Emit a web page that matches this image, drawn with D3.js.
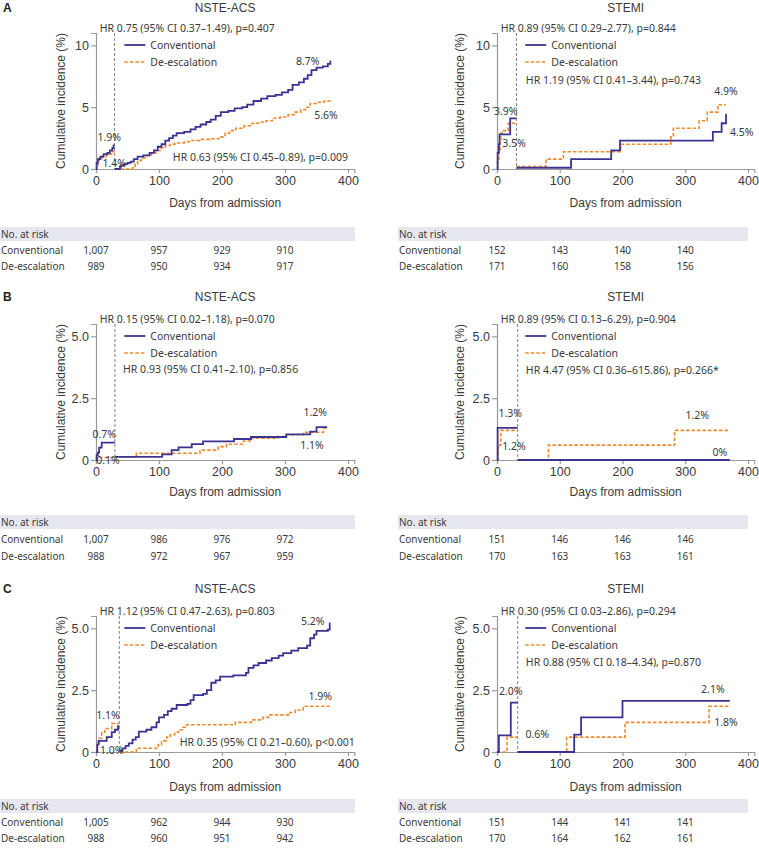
<!DOCTYPE html>
<html><head><meta charset="utf-8">
<script src="https://cdn.jsdelivr.net/npm/d3@7"></script>
<style>body{margin:0;background:#fff}svg{display:block}</style>
</head><body>
<svg id="chart" width="759" height="853"></svg>
<script>
// ---------------- DATA ----------------
const panelTitles = ["NSTE-ACS", "STEMI"];
const seriesNames = ["Conventional", "De-escalation"];
const xTicks = [0, 100, 200, 300, 400];
const riskTicks = [0, 100, 200, 300];
const yTicksA = [0, 5, 10];
const yTickLabelsA = ["0", "5", "10"];
const yTicksBC = [0, 2.5, 5];
const yTickLabelsBC = ["0", "2.5", "5.0"];
const landmarkDays = [[29.5, 31], [30, 33], [37, 33]];

// Panel A, NSTE-ACS
const A_nste_conv_early = [[0,0],[1,0.5],[3,0.8],[7,1.0],[12,1.2],[18,1.3],[22,1.5],[26,1.7],[28,1.9],[29.5,1.9]];
const A_nste_desc_early = [[0,0],[1,0.3],[3,0.6],[5,0.9],[10,1.0],[16,1.1],[21,1.2],[25,1.4],[29.5,1.4]];
const A_nste_conv_late = [[30,0],[38,0.2],[40,0.3],[45,0.4],[50,0.5],[55,0.6],[60,0.8],[66,1.0],[75,1.1],[85,1.3],[92,1.5],[98,1.8],[104,2.0],[110,2.3],[116,2.5],[122,2.7],[128,2.9],[140,3.0],[150,3.2],[158,3.4],[166,3.6],[175,3.8],[182,4.0],[190,4.3],[198,4.6],[210,4.7],[220,4.9],[232,5.0],[240,5.2],[250,5.5],[262,5.7],[272,5.9],[285,6.0],[295,6.2],[305,6.4],[312,6.8],[322,7.0],[330,7.3],[336,7.6],[342,8.0],[350,8.2],[360,8.3],[368,8.5],[372,8.7],[373,8.7]];
const A_nste_desc_late = [[30,0],[58,0.1],[62,0.4],[66,0.7],[72,0.9],[80,1.1],[88,1.3],[95,1.5],[102,1.7],[110,1.9],[118,2.0],[125,2.1],[140,2.2],[150,2.3],[165,2.4],[180,2.45],[195,2.6],[205,2.9],[212,3.1],[222,3.3],[235,3.5],[248,3.7],[258,3.8],[270,3.9],[280,4.1],[292,4.2],[305,4.4],[315,4.6],[325,4.8],[333,5.0],[340,5.3],[350,5.4],[362,5.5],[372,5.6],[373,5.6]];
// Panel A, STEMI
const A_stemi_conv_early = [[0,0],[1,1.3],[3,2.0],[4,2.8],[21,4.1],[31,4.1]];
const A_stemi_desc_early = [[0,0],[1,0.6],[3,1.4],[5,2.4],[6,2.9],[10,3.1],[18,3.7],[31,3.7]];
const A_stemi_conv_late = [[31,0.1],[118,0.8],[182,1.5],[196,2.3],[344,3.0],[358,3.7],[365,4.4],[366,4.4]];
const A_stemi_desc_late = [[31,0.2],[78,0.8],[106,1.4],[197,2.0],[277,2.6],[281,3.3],[322,3.9],[335,4.6],[352,5.2],[365,5.2]];
// Panel B, NSTE-ACS
const B_nste_conv_early = [[0,0],[1,0.2],[3,0.3],[5,0.5],[9,0.7],[30,0.7]];
const B_nste_desc_early = [[0,0],[1,0.1],[30,0.1]];
const B_nste_conv_late = [[30,0.13],[105,0.23],[120,0.4],[131,0.51],[152,0.64],[170,0.75],[219,0.85],[246,0.93],[302,1.04],[340,1.15],[350,1.33],[367,1.33]];
const B_nste_desc_late = [[30,0.13],[64,0.27],[165,0.4],[194,0.54],[207,0.64],[234,0.77],[247,0.88],[289,0.95],[302,1.02],[329,1.12],[361,1.29],[367,1.29]];
// Panel B, STEMI
const B_stemi_conv_early = [[0,0],[1,1.3],[33,1.3]];
const B_stemi_desc_early = [[0,0],[2,0.6],[6,1.2],[33,1.2]];
const B_stemi_conv_late = [[33,0],[371,0]];
const B_stemi_desc_late = [[33,0],[82,0.6],[283,1.2],[371,1.2]];
// Panel C, NSTE-ACS
const C_nste_conv_early = [[0,0],[2,0.3],[4,0.45],[17,0.6],[25,0.8],[30,0.9],[35,1.05],[37,1.05]];
const C_nste_desc_early = [[0,0],[2,0.3],[5,0.55],[9,0.8],[14,0.95],[25,1.15],[37,1.15]];
const C_nste_conv_late = [[37,0.05],[42,0.15],[47,0.25],[52,0.35],[58,0.5],[63,0.6],[68,0.82],[80,0.9],[88,1.0],[96,1.2],[100,1.4],[108,1.5],[114,1.65],[120,1.75],[128,1.9],[145,1.95],[150,2.1],[155,2.3],[170,2.35],[176,2.5],[183,2.8],[190,2.9],[197,3.05],[218,3.1],[238,3.2],[242,3.4],[250,3.5],[258,3.6],[270,3.7],[279,3.8],[290,3.9],[297,4.0],[310,4.1],[321,4.2],[335,4.3],[340,4.6],[346,4.75],[350,4.9],[368,4.95],[371,5.2],[372,5.2]];
const C_nste_desc_late = [[37,0],[64,0.15],[99,0.3],[104,0.45],[112,0.6],[118,0.7],[125,0.8],[131,0.9],[138,1.0],[144,1.1],[221,1.2],[247,1.3],[265,1.4],[276,1.5],[308,1.6],[316,1.7],[329,1.85],[371,1.85]];
// Panel C, STEMI
const C_stemi_conv_early = [[0,0],[3,0.67],[22,2.0],[33,2.0]];
const C_stemi_desc_early = [[0,0],[16,0.6],[33,0.6]];
const C_stemi_conv_late = [[33,0],[123,0.7],[134,1.4],[200,2.07],[371,2.07]];
const C_stemi_desc_late = [[33,0],[111,0.6],[204,1.2],[338,1.85],[371,1.85]];

// Numbers at risk
const A_nste_risk_conv = [1007, 957, 929, 910];
const A_nste_risk_desc = [989, 950, 934, 917];
const A_stemi_risk_conv = [152, 143, 140, 140];
const A_stemi_risk_desc = [171, 160, 158, 156];
const B_nste_risk_conv = [1007, 986, 976, 972];
const B_nste_risk_desc = [988, 972, 967, 959];
const B_stemi_risk_conv = [151, 146, 146, 146];
const B_stemi_risk_desc = [170, 163, 163, 161];
const C_nste_risk_conv = [1005, 962, 944, 930];
const C_nste_risk_desc = [988, 960, 951, 942];
const C_stemi_risk_conv = [151, 144, 141, 141];
const C_stemi_risk_desc = [170, 164, 162, 161];

// Hazard ratio texts
const hrEarly = [["HR 0.75 (95% CI 0.37–1.49), p=0.407", "HR 0.89 (95% CI 0.29–2.77), p=0.844"],
                 ["HR 0.15 (95% CI 0.02–1.18), p=0.070", "HR 0.89 (95% CI 0.13–6.29), p=0.904"],
                 ["HR 1.12 (95% CI 0.47–2.63), p=0.803", "HR 0.30 (95% CI 0.03–2.86), p=0.294"]];
const hrLate = [["HR 0.63 (95% CI 0.45–0.89), p=0.009", "HR 1.19 (95% CI 0.41–3.44), p=0.743"],
                ["HR 0.93 (95% CI 0.41–2.10), p=0.856", "HR 4.47 (95% CI 0.36–615.86), p=0.266*"],
                ["HR 0.35 (95% CI 0.21–0.60), p<0.001", "HR 0.88 (95% CI 0.18–4.34), p=0.870"]];

// Percentage labels: text, day, value (label centre, in data units)
const pctLabels = [
  [[["8.7%",336,8.74],["5.6%",365,4.37],["1.9%",21,2.6],["1.4%",29,0.5]],
   [["3.9%",14,4.7],["3.5%",27,2.1],["4.9%",365,6.3],["4.5%",390,3.0]]],
  [[["0.7%",13,1.06],["0.1%",19,0.0],["1.2%",348,1.95],["1.1%",343,0.61]],
   [["1.3%",21,1.91],["1.2%",27,0.57],["1.2%",319,1.83],["0%",355,0.33]]],
  [[["5.2%",344,5.28],["1.9%",356,2.26],["1.1%",19,1.49],["1.0%",25,0.1]],
   [["2.0%",22,2.46],["0.6%",64,0.73],["2.1%",344,2.54],["1.8%",365,1.21]]]
];
// late-HR label anchor (day, value)
const hrLatePos = [[[122,0.97],[46,7.2]], [[43,3.66],[46,3.62]], [[133,0.4],[46,3.63]]];

// ---------------- LAYOUT ----------------
const COL_BLUE = "#3b3391", COL_ORANGE = "#f0892a", TXT = "#3a3a3a", AX = "#9a9a9a";
const SANS = "'Liberation Sans', Arial, sans-serif";
const NOTO = "'Noto Sans', 'Open Sans', sans-serif";
const colX = [{x0: 96, x400: 348, tableX: 0, tableW: 355, ylabX: 61}, {x0: 497, x400: 748, tableX: 398, tableW: 350, ylabX: 460}];
const rowsLayout = [
  {letter: "A", top: 33, bottom: 169, titleY: 8, yMax: 11, yT: yTicksA, yL: yTickLabelsA, daysY: 203, bandY: 234, convY: 250, descY: 266},
  {letter: "B", top: 324, bottom: 460, titleY: 297, yMax: 5.5, yT: yTicksBC, yL: yTickLabelsBC, daysY: 492, bandY: 522, convY: 539, descY: 556},
  {letter: "C", top: 616, bottom: 752, titleY: 589, yMax: 5.5, yT: yTicksBC, yL: yTickLabelsBC, daysY: 787, bandY: 806, convY: 822, descY: 838}
];
const curves = [
  [[A_nste_conv_early, A_nste_desc_early, A_nste_conv_late, A_nste_desc_late], [A_stemi_conv_early, A_stemi_desc_early, A_stemi_conv_late, A_stemi_desc_late]],
  [[B_nste_conv_early, B_nste_desc_early, B_nste_conv_late, B_nste_desc_late], [B_stemi_conv_early, B_stemi_desc_early, B_stemi_conv_late, B_stemi_desc_late]],
  [[C_nste_conv_early, C_nste_desc_early, C_nste_conv_late, C_nste_desc_late], [C_stemi_conv_early, C_stemi_desc_early, C_stemi_conv_late, C_stemi_desc_late]]
];
const risks = [
  [[A_nste_risk_conv, A_nste_risk_desc], [A_stemi_risk_conv, A_stemi_risk_desc]],
  [[B_nste_risk_conv, B_nste_risk_desc], [B_stemi_risk_conv, B_stemi_risk_desc]],
  [[C_nste_risk_conv, C_nste_risk_desc], [C_stemi_risk_conv, C_stemi_risk_desc]]
];

const svg = d3.select("#chart");
const fmt = d3.format(",");

rowsLayout.forEach((row, ri) => {
  svg.append("text").attr("x", 3).attr("y", row.titleY).attr("dominant-baseline", "central")
    .attr("font-family", SANS).attr("font-weight", "bold").attr("font-size", 12).attr("fill", "#222").text(row.letter);
  colX.forEach((col, ci) => {
    const x = d3.scaleLinear().domain([0, 400]).range([col.x0, col.x400]);
    const y = d3.scaleLinear().domain([0, row.yMax]).range([row.bottom, row.top]);
    const g = svg.append("g");
    const xEnd = x(410);
    // title
    g.append("text").attr("x", (col.x0 + xEnd) / 2).attr("y", row.titleY).attr("text-anchor", "middle")
      .attr("dominant-baseline", "central").attr("font-family", SANS).attr("font-size", 12).attr("fill", TXT).text(panelTitles[ci]);
    // axes
    const xAxis = d3.axisBottom(d3.scaleLinear().domain([0, 410]).range([col.x0, xEnd])).tickValues(xTicks).tickSizeOuter(0).tickSize(4).tickPadding(3);
    const xg = g.append("g").attr("transform", `translate(0,${row.bottom})`).call(xAxis);
    const yAxis = d3.axisLeft(y).tickValues(row.yT).tickFormat((d, i) => row.yL[i]).tickSizeOuter(0).tickSize(5).tickPadding(2);
    const yg = g.append("g").attr("transform", `translate(${col.x0},0)`).call(yAxis);
    [xg, yg].forEach(a => {
      a.select(".domain").attr("stroke", AX).attr("stroke-width", 1.2);
      a.selectAll(".tick line").attr("stroke", AX).attr("stroke-width", 1.2);
      a.selectAll(".tick text").attr("fill", TXT).attr("font-family", SANS).attr("font-size", 12.5);
    });
    // axis labels
    g.append("text").attr("transform", `translate(${col.ylabX},${(row.top + row.bottom) / 2}) rotate(-90)`)
      .attr("text-anchor", "middle").attr("dominant-baseline", "central").attr("font-family", SANS).attr("font-size", 12).attr("fill", TXT)
      .text("Cumulative incidence (%)");
    g.append("text").attr("x", (col.x0 + xEnd) / 2).attr("y", row.daysY).attr("text-anchor", "middle").attr("dominant-baseline", "central")
      .attr("font-family", SANS).attr("font-size", 12).attr("fill", TXT).text("Days from admission");
    // landmark line
    const lm = landmarkDays[ri][ci];
    g.append("line").attr("x1", x(lm)).attr("x2", x(lm)).attr("y1", row.top).attr("y2", row.bottom)
      .attr("stroke", "#808080").attr("stroke-width", 1).attr("stroke-dasharray", "3,2");
    // curves
    const line = d3.line().x(d => x(d[0])).y(d => y(d[1])).curve(d3.curveStepAfter);
    const c = curves[ri][ci];
    [1, 3].forEach(k => g.append("path").attr("d", line(c[k])).attr("fill", "none").attr("stroke", COL_ORANGE)
      .attr("stroke-width", 1.6).attr("stroke-dasharray", "3.5,2"));
    [0, 2].forEach(k => g.append("path").attr("d", line(c[k])).attr("fill", "none").attr("stroke", COL_BLUE)
      .attr("stroke-width", 1.8));
    // legend
    const lx = x(45), ly1 = row.top + 12, ly2 = row.top + 29;
    g.append("line").attr("x1", lx).attr("x2", lx + 21).attr("y1", ly1).attr("y2", ly1).attr("stroke", COL_BLUE).attr("stroke-width", 1.8);
    g.append("line").attr("x1", lx).attr("x2", lx + 21).attr("y1", ly2).attr("y2", ly2).attr("stroke", COL_ORANGE).attr("stroke-width", 1.6).attr("stroke-dasharray", "3.5,2");
    [ly1, ly2].forEach((ly, i) => g.append("text").attr("x", lx + 26).attr("y", ly).attr("dominant-baseline", "central")
      .attr("font-family", NOTO).attr("font-size", 10.5).attr("fill", TXT).text(seriesNames[i]));
    // HR texts
    g.append("text").attr("x", x(6)).attr("y", row.top - 5).attr("font-family", NOTO).attr("font-size", 10.5)
      .attr("dominant-baseline", "central").attr("fill", TXT).text(hrEarly[ri][ci]);
    const hp = hrLatePos[ri][ci];
    g.append("text").attr("x", x(hp[0])).attr("y", y(hp[1])).attr("font-family", NOTO).attr("font-size", 10.5)
      .attr("dominant-baseline", "central").attr("fill", TXT).text(hrLate[ri][ci]);
    // pct labels
    pctLabels[ri][ci].forEach(p => g.append("text").attr("x", x(p[1])).attr("y", y(p[2])).attr("text-anchor", "middle")
      .attr("dominant-baseline", "central").attr("font-family", NOTO).attr("font-size", 10.5).attr("fill", TXT).text(p[0]));
    // risk table
    g.append("rect").attr("x", col.tableX).attr("y", row.bandY - 7).attr("width", col.tableW).attr("height", 14).attr("fill", "#e7e7f0");
    g.append("text").attr("x", col.tableX + 1).attr("y", row.bandY).attr("dominant-baseline", "central")
      .attr("font-family", NOTO).attr("font-size", 10).attr("fill", TXT).text("No. at risk");
    [row.convY, row.descY].forEach((ry, i) => {
      g.append("text").attr("x", col.tableX + 1).attr("y", ry).attr("dominant-baseline", "central")
        .attr("font-family", NOTO).attr("font-size", 10).attr("fill", TXT).text(seriesNames[i]);
      risks[ri][ci][i].forEach((v, j) => g.append("text").attr("x", x(riskTicks[j])).attr("y", ry).attr("text-anchor", "middle")
        .attr("dominant-baseline", "central").attr("font-family", NOTO).attr("font-size", 10).attr("fill", TXT).text(fmt(v)));
    });
  });
});
</script>
</body></html>
